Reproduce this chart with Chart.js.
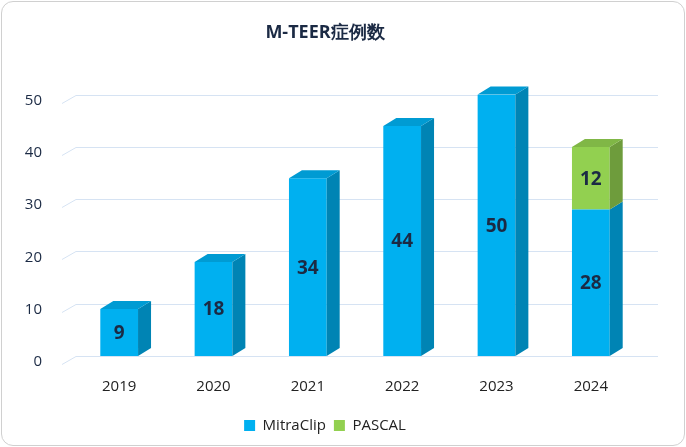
<!DOCTYPE html>
<html>
<head>
<meta charset="utf-8">
<script src="https://cdn.jsdelivr.net/npm/chart.js@4.4.1/dist/chart.umd.min.js"></script>
<style>
  body { margin: 0; background: #fff; }
  #wrap { position: absolute; left: 1px; top: 1px; width: 682px; height: 443px; border: 1px solid #d0d0d0; border-radius: 12px; overflow: hidden; }
</style>
</head>
<body>
<div id="wrap"><canvas id="chart" width="682" height="443"></canvas></div>
<script>
// chart data
const years = ['2019', '2020', '2021', '2022', '2023', '2024'];
const mitraClip = [9, 18, 34, 44, 50, 28];
const pascal = [null, null, null, null, null, 12];
const yTicks = [0, 10, 20, 30, 40, 50];

const DX = 13, DY = 8;
const textColor = '#1b2a44';

function shade(hex, f) {
  const n = parseInt(hex.slice(1), 16);
  const r = Math.round(((n >> 16) & 255) * f), g = Math.round(((n >> 8) & 255) * f), b = Math.round((n & 255) * f);
  return 'rgb(' + r + ',' + g + ',' + b + ')';
}

// draws the back grid in perspective
const grid3d = {
  id: 'grid3d',
  beforeDatasetsDraw(chart) {
    const ctx = chart.ctx, a = chart.chartArea, y = chart.scales.y;
    ctx.save();
    ctx.strokeStyle = '#d6e3f3';
    ctx.lineWidth = 1;
    yTicks.forEach(v => {
      const py = Math.round(y.getPixelForValue(v)) + 0.5;
      ctx.beginPath();
      ctx.moveTo(a.left - 10, py + DY);
      ctx.lineTo(a.left + 4, py);
      ctx.lineTo(a.right + 20, py);
      ctx.stroke();
    });
    ctx.restore();
  }
};

// side and top faces plus value labels
const bars3d = {
  id: 'bars3d',
  afterDatasetsDraw(chart) {
    const ctx = chart.ctx;
    const sets = chart.data.datasets;
    ctx.save();
    sets.forEach((ds, di) => {
      const meta = chart.getDatasetMeta(di);
      meta.data.forEach((bar, i) => {
        if (ds.data[i] == null) return;
        const covered = sets.slice(di + 1).some(o => o.data[i] != null);
        const p = bar.getProps(['x', 'y', 'base', 'width'], true);
        const l = p.x - p.width / 2, r = p.x + p.width / 2;
        const top = p.y, bot = p.base;
        ctx.fillStyle = shade(ds.backgroundColor, 0.75);
        ctx.beginPath();
        ctx.moveTo(r, bot); ctx.lineTo(r + DX, bot - DY); ctx.lineTo(r + DX, top - DY); ctx.lineTo(r, top);
        ctx.closePath(); ctx.fill();
        if (!covered) {
          ctx.fillStyle = shade(ds.backgroundColor, 0.88);
          ctx.beginPath();
          ctx.moveTo(l, top); ctx.lineTo(l + DX, top - DY); ctx.lineTo(r + DX, top - DY); ctx.lineTo(r, top);
          ctx.closePath(); ctx.fill();
        }
        ctx.fillStyle = textColor;
        ctx.font = 'bold 19px "Open Sans", sans-serif';
        ctx.textAlign = 'center';
        ctx.textBaseline = 'middle';
        ctx.fillText(ds.data[i], p.x, (top + bot) / 2 + 1);
      });
    });
    ctx.restore();
  }
};

new Chart(document.getElementById('chart'), {
  type: 'bar',
  data: {
    labels: years,
    datasets: [
      { label: 'MitraClip', data: mitraClip, backgroundColor: '#00b0f0' },
      { label: 'PASCAL', data: pascal, backgroundColor: '#92d050' }
    ]
  },
  options: {
    responsive: false,
    animation: false,
    layout: { padding: { left: 10, right: 46, top: 0, bottom: 2 } },
    datasets: { bar: { barPercentage: 0.4, categoryPercentage: 1 } },
    plugins: {
      title: {
        display: true, text: 'M-TEER症例数', color: textColor,
        font: { size: 18, weight: 'bold', family: '"Open Sans", sans-serif' },
        padding: { top: 20, bottom: 51 }
      },
      legend: {
        position: 'bottom',
        labels: { color: '#222', boxWidth: 11, boxHeight: 11, padding: 8, font: { size: 15, family: '"Open Sans", sans-serif' } }
      },
      tooltip: { enabled: false }
    },
    scales: {
      x: {
        stacked: true,
        grid: { display: false }, border: { display: false },
        ticks: { color: '#222', padding: 14, font: { size: 15, family: '"Open Sans", sans-serif' } }
      },
      y: {
        stacked: true, min: 0, max: 50,
        afterFit(s) { s.width = 60; },
        grid: { display: false }, border: { display: false },
        ticks: { stepSize: 10, color: textColor, padding: 22, labelOffset: 6, font: { size: 15, family: '"Open Sans", sans-serif' } }
      }
    }
  },
  plugins: [grid3d, bars3d]
});
</script>
</body>
</html>
